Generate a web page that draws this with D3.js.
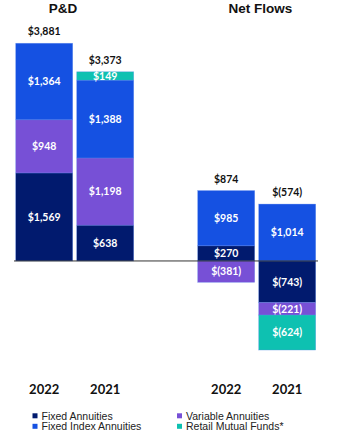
<!DOCTYPE html>
<html>
<head>
<meta charset="utf-8">
<script src="https://cdn.jsdelivr.net/npm/d3@7"></script>
<style>
  body { margin: 0; background: #fff; }
  svg { display: block; }
</style>
</head>
<body>
<svg id="chart"></svg>
<script>
const w = 337;
const h = 432;

// groups and years
const groups = ["P&D", "Net Flows"];
const years = ["2022", "2021"];
const keys = ["Fixed Annuities", "Variable Annuities", "Fixed Index Annuities", "Retail Mutual Funds*"];
const colors = ["#011a6e", "#7750d6", "#1551e2", "#0ec1b1"];

// values per bar, order of keys
const fixedAnnuities = [1569, 638, 270, -743];
const variableAnnuities = [948, 1198, -381, -221];
const fixedIndexAnnuities = [1364, 1388, 985, 1014];
const retailMutualFunds = [0, 149, 0, -624];
const totals = ["$3,881", "$3,373", "$874", "$(574)"];

const bars = [];
groups.forEach((g) => years.forEach((yr) => bars.push({ group: g, year: yr })));
bars.forEach((b, i) => {
  b["Fixed Annuities"] = fixedAnnuities[i];
  b["Variable Annuities"] = variableAnnuities[i];
  b["Fixed Index Annuities"] = fixedIndexAnnuities[i];
  b["Retail Mutual Funds*"] = retailMutualFunds[i];
  b.total = totals[i];
});

const svg = d3.select("#chart").attr("width", w).attr("height", h);

const x0 = d3.scaleBand().domain(groups).range([15.7, 315.7]).paddingInner(0.3516);
const x1 = d3.scaleBand().domain(years).range([0, x0.bandwidth()]).paddingInner(0.0656);
const y = d3.scaleLinear().domain([-1600, 3900]).range([350.7, 42.2]);
const color = d3.scaleOrdinal().domain(keys).range(colors);

const fmt = (v) => (v < 0 ? `$(${d3.format(",")(-v)})` : `$${d3.format(",")(v)}`);

const series = d3.stack().keys(keys).offset(d3.stackOffsetDiverging)(bars);

const layer = svg
  .selectAll("g.layer")
  .data(series)
  .enter()
  .append("g")
  .attr("class", "layer")
  .attr("fill", (d) => color(d.key));

layer
  .selectAll("rect")
  .data((d) => d.filter((p) => p[1] !== p[0]))
  .enter()
  .append("rect")
  .attr("x", (d) => x0(d.data.group) + x1(d.data.year))
  .attr("y", (d) => y(Math.max(d[0], d[1])))
  .attr("width", x1.bandwidth())
  .attr("height", (d) => Math.abs(y(d[0]) - y(d[1])))
  .attr("stroke", "#5f8cf0")
  .attr("stroke-width", 0.6)
  .attr("stroke-opacity", 0.5);

// segment labels
layer
  .selectAll("text")
  .data((d) => d.filter((p) => p[1] !== p[0]).map((p) => ({ p, key: d.key })))
  .enter()
  .append("text")
  .attr("x", (d) => x0(d.p.data.group) + x1(d.p.data.year) + x1.bandwidth() / 2)
  .attr("y", (d) => (y(d.p[0]) + y(d.p[1])) / 2)
  .attr("dy", "0.36em")
  .attr("text-anchor", "middle")
  .attr("fill", "#fff")
  .attr("font-family", "Lato, 'Open Sans', sans-serif")
  .attr("font-weight", "bold")
  .attr("font-size", 10.5)
  .text((d) => fmt(d.p.data[d.key]));

// totals above bars
const barTop = (b) => d3.sum(keys, (k) => Math.max(0, b[k]));
svg
  .selectAll("text.total")
  .data(bars)
  .enter()
  .append("text")
  .attr("class", "total")
  .attr("x", (d) => x0(d.group) + x1(d.year) + x1.bandwidth() / 2)
  .attr("y", (d) => y(barTop(d)) - 8)
  .attr("text-anchor", "middle")
  .attr("fill", "#111")
  .attr("font-family", "Lato, 'Open Sans', sans-serif")
  .attr("font-weight", "bold")
  .attr("font-size", 10.5)
  .text((d) => d.total);

// zero line
svg
  .append("line")
  .attr("x1", 14)
  .attr("x2", 318)
  .attr("y1", y(0))
  .attr("y2", y(0))
  .attr("stroke", "#333")
  .attr("stroke-width", 1);

// year labels
svg
  .selectAll("text.year")
  .data(bars)
  .enter()
  .append("text")
  .attr("class", "year")
  .attr("x", (d) => x0(d.group) + x1(d.year) + x1.bandwidth() / 2)
  .attr("y", 393.5)
  .attr("text-anchor", "middle")
  .attr("fill", "#111")
  .attr("font-family", "Lato, 'Open Sans', sans-serif")
  .attr("font-weight", "bold")
  .attr("font-size", 13)
  .text((d) => d.year);

// group titles
const titleX = [63, 260.5];
svg
  .selectAll("text.title")
  .data(groups)
  .enter()
  .append("text")
  .attr("class", "title")
  .attr("x", (d, i) => titleX[i])
  .attr("y", 13)
  .attr("text-anchor", "middle")
  .attr("fill", "#111")
  .attr("font-family", "'Liberation Sans', Arial, sans-serif")
  .attr("font-weight", "bold")
  .attr("font-size", 13.5)
  .text((d) => d);

// legend
const legendPos = [
  [32.5, 413.3],
  [177, 413.3],
  [32.5, 423.8],
  [177, 423.8],
];
const legend = svg
  .selectAll("g.legend")
  .data(keys)
  .enter()
  .append("g")
  .attr("class", "legend")
  .attr("transform", (d, i) => `translate(${legendPos[i][0]},${legendPos[i][1]})`);

legend
  .append("rect")
  .attr("width", 5)
  .attr("height", 5)
  .attr("fill", (d) => color(d));

legend
  .append("text")
  .attr("x", 9)
  .attr("y", 2.5)
  .attr("dy", "0.36em")
  .attr("fill", "#222")
  .attr("font-family", "'Liberation Sans', Arial, sans-serif")
  .attr("font-size", 10.5)
  .text((d) => d);
</script>
</body>
</html>
